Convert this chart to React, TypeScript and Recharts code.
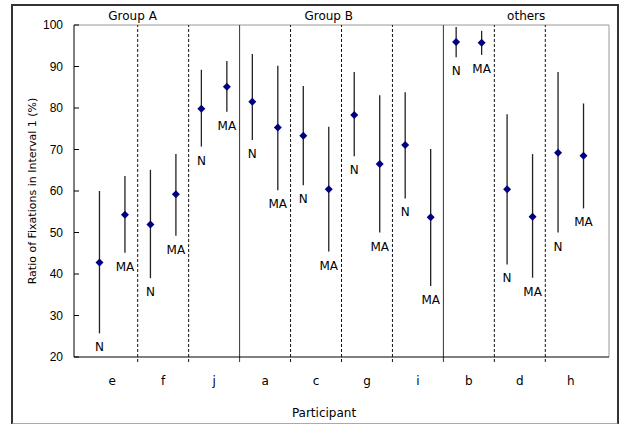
import { ScatterChart, Scatter, XAxis, YAxis, ErrorBar, ReferenceLine } from "recharts";

// participants in plotted order, each has an N and an MA estimate
const participants = ["e", "f", "j", "a", "c", "g", "i", "b", "d", "h"];
const groups = ["Group A", "Group B", "others"];
const groupLabelX = [2.3, 10, 17.75];
const groupStarts = [3, 7]; // participant index where a new group begins

const meanN = [42.8, 51.9, 79.8, 81.5, 73.3, 78.3, 71.1, 95.9, 60.4, 69.2];
const lowN = [25.7, 39.0, 70.7, 72.3, 61.4, 68.4, 58.2, 92.2, 42.3, 50.0];
const highN = [60.0, 65.1, 89.2, 93.0, 85.3, 88.7, 83.8, 99.5, 78.5, 88.7];

const meanMA = [54.3, 59.2, 85.1, 75.3, 60.4, 66.5, 53.7, 95.7, 53.8, 68.5];
const lowMA = [45.1, 49.2, 79.1, 60.2, 45.4, 50.0, 37.1, 92.8, 39.1, 55.8];
const highMA = [63.6, 68.9, 91.3, 90.2, 75.5, 83.1, 70.1, 98.6, 68.9, 81.1];

const yTicks = [20, 30, 40, 50, 60, 70, 80, 90, 100];

const points = participants.flatMap((p, i) => [
	{ x: 2 * i + 1, y: meanN[i], err: [meanN[i] - lowN[i], highN[i] - meanN[i]], lo: lowN[i], tag: "N" },
	{ x: 2 * i + 2, y: meanMA[i], err: [meanMA[i] - lowMA[i], highMA[i] - meanMA[i]], lo: lowMA[i], tag: "MA" },
]);
const labelPoints = points.map((d) => ({ x: d.x, y: d.lo, tag: d.tag }));

const catTicks = participants.map((_, i) => 2 * i + 1.5);
const dividers = participants.slice(1).map((_, i) => ({
	x: 2 * i + 2.5,
	solid: groupStarts.includes(i + 1),
}));

const textFont = "'DejaVu Sans', sans-serif";
const numFont = "'Liberation Sans', Arial, sans-serif";

const Diamond = (props: any) => {
	const { cx, cy } = props;
	return (
		<polygon
			points={`${cx},${cy - 4} ${cx + 4},${cy} ${cx},${cy + 4} ${cx - 4},${cy}`}
			fill="#000080"
		/>
	);
};

const TagLabel = (props: any) => {
	const { cx, cy, payload } = props;
	return (
		<text x={cx} y={cy + 18} textAnchor="middle" fontSize={12} fontFamily={textFont} fill="#000">
			{payload.tag}
		</text>
	);
};

const App = () => {
	return (
		<div style={{ position: "absolute", left: 0, top: 0, width: 620, height: 424 }}>
			<div
				style={{
					position: "absolute",
					left: 11,
					top: 4,
					width: 604,
					height: 417,
					borderTop: "2px solid #333",
					borderLeft: "2px solid #333",
					borderRight: "2px solid #333",
					borderBottom: "2px solid #aaa",
				}}
			/>
			<div style={{ position: "absolute", left: 0, top: 0 }}>
				<ScatterChart width={620} height={424} margin={{ top: 25, right: 11, left: 12, bottom: 5 }}>
					<XAxis
						type="number"
						dataKey="x"
						domain={[0, 21]}
						ticks={catTicks}
						interval={0}
						tickFormatter={(v: number) => participants[Math.round((v - 1.5) / 2)]}
						tickLine={false}
						tickSize={0}
						tickMargin={19}
						axisLine={{ stroke: "#000" }}
						height={62}
						tick={{ fill: "#000", fontSize: 12, fontFamily: textFont }}
					/>
					<YAxis
						type="number"
						dataKey="y"
						domain={[20, 100]}
						ticks={yTicks}
						interval={0}
						width={62}
						tickSize={5}
						tickMargin={6}
						tickLine={{ stroke: "#000", transform: "translate(5,0)" }}
						axisLine={{ stroke: "#000" }}
						tick={{ fill: "#000", fontSize: 12, fontFamily: numFont }}
					/>
					<ReferenceLine y={100} stroke="#999" />
					<ReferenceLine x={21} stroke="#999" />
					{groups.map((g, i) => (
						<ReferenceLine
							key={g}
							x={groupLabelX[i]}
							stroke="none"
							label={{
								value: g,
								position: "top",
								offset: 5,
								fill: "#000",
								fontSize: 12,
								fontFamily: textFont,
							}}
						/>
					))}
					{dividers.map((d) => (
						<ReferenceLine
							key={d.x}
							segment={[
								{ x: d.x, y: 18.8 },
								{ x: d.x, y: 100 },
							]}
							ifOverflow="visible"
							stroke={d.solid ? "#333" : "#111"}
							strokeDasharray={d.solid ? undefined : "3 2"}
						/>
					))}
					<Scatter data={points} shape={<Diamond />} isAnimationActive={false}>
						<ErrorBar
							dataKey="err"
							direction="y"
							width={0}
							stroke="#222"
							strokeWidth={1.3}
							isAnimationActive={false}
						/>
					</Scatter>
					<Scatter data={labelPoints} shape={<TagLabel />} isAnimationActive={false} />
				</ScatterChart>
			</div>
			<div
				style={{
					position: "absolute",
					left: 32,
					top: 191,
					transform: "translate(-50%, -50%) rotate(-90deg)",
					whiteSpace: "nowrap",
					fontFamily: textFont,
					fontSize: 11,
				}}
			>
				Ratio of Fixations in Interval 1 (%)
			</div>
			<div
				style={{
					position: "absolute",
					left: 324,
					top: 413,
					transform: "translate(-50%, -50%)",
					whiteSpace: "nowrap",
					fontFamily: textFont,
					fontSize: 12,
				}}
			>
				Participant
			</div>
		</div>
	);
};

export default App;
